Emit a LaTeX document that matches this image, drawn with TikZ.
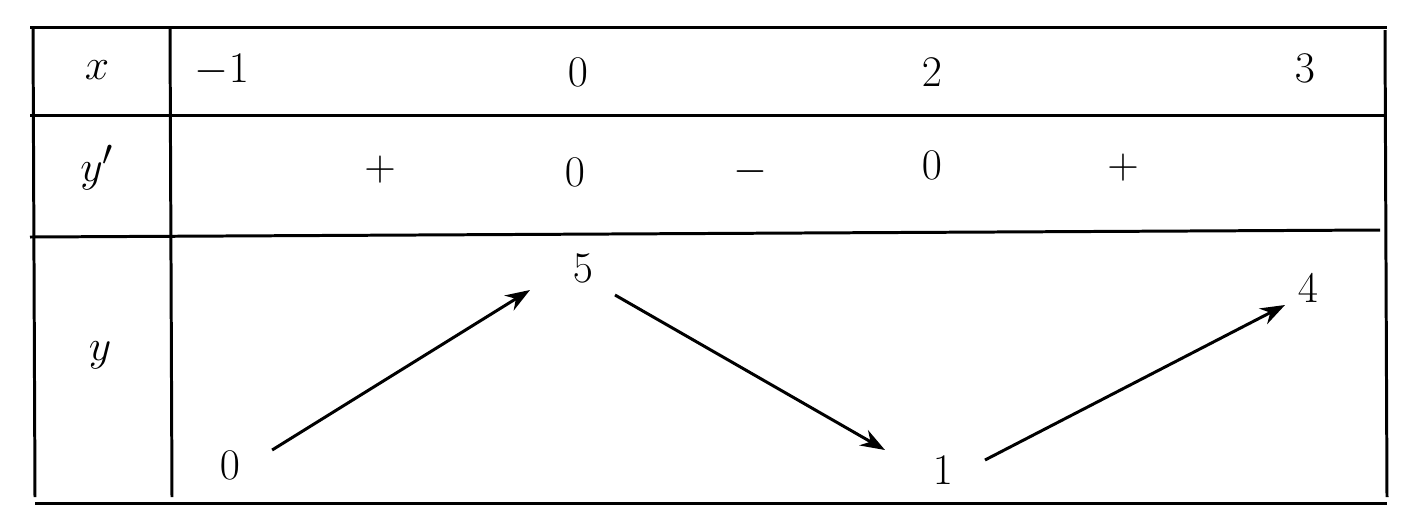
\documentclass[tikz,border=0pt]{standalone}
\usetikzlibrary{arrows.meta}
\begin{document}
\begin{tikzpicture}[x=0.02cm,y=-0.02cm,
  grid/.style={line width=1.7pt},
  arr/.style={line width=1.7pt,-{Stealth[length=14pt,width=10pt]}},
  lbl/.style={font=\fontsize{28}{30}\selectfont,inner sep=1pt}]
\useasboundingbox (0,0) rectangle (1428,522);
\coordinate (tl) at (30,27); \coordinate (tr) at (1387,27);
\coordinate (bl) at (35,503); \coordinate (br) at (1387,503);
\draw[grid] (tl) -- (tr);
\draw[grid] (bl) -- (br);
\draw[grid] (33,27) -- (35,497);
\draw[grid] (1385,30) -- (1387,497);
\draw[grid] (170,27) -- (172,497);
\draw[grid] (30,115) -- (1385,115);
\draw[grid] (30,237) -- (1380,230);
\node[lbl] (xh) at (97,70) {$x$};
\node[lbl] (x1) at (222,70) {$-1$};
\node[lbl] (x2) at (578,72) {$0$};
\node[lbl] (x3) at (932,72) {$2$};
\node[lbl] (x4) at (1305,68) {$3$};
\node[lbl] (dh) at (97,168) {$y'$};
\node[lbl] (d1) at (380,170) {$+$};
\node[lbl] (d2) at (575,172) {$0$};
\node[lbl] (d3) at (750,172) {$-$};
\node[lbl] (d4) at (932,165) {$0$};
\node[lbl] (d5) at (1123,168) {$+$};
\node[lbl] (yh) at (100,355) {$y$};
\node[lbl] (v1) at (230,465) {$0$};
\node[lbl] (v2) at (583,268) {$5$};
\node[lbl] (v3) at (943,470) {$1$};
\node[lbl] (v4) at (1308,288) {$4$};
\draw[arr] (v1.east) ++(30,-15) coordinate (a1) -- (530,290) coordinate (a2);
\draw[arr] (615,295) coordinate (b1) -- (885,450) coordinate (b2);
\draw[arr] (985,460) coordinate (c1) -- (1285,305) coordinate (c2);
\end{tikzpicture}
\end{document}
